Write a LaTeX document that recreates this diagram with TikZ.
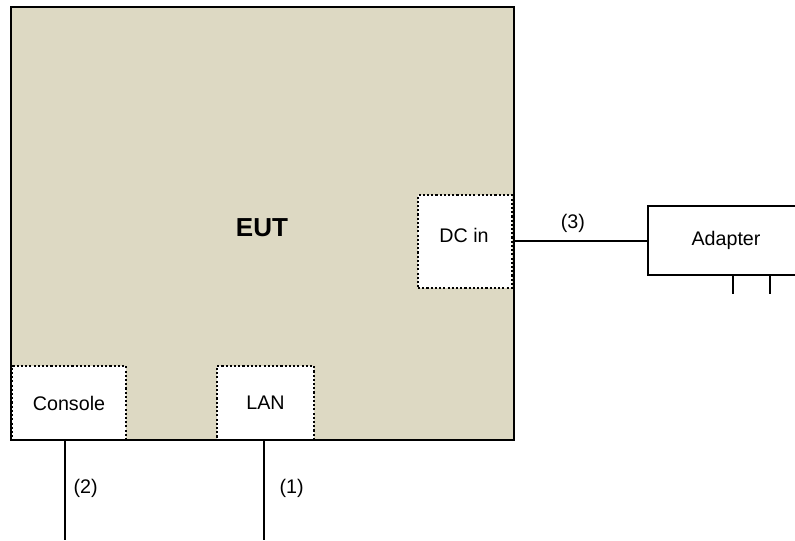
\documentclass[tikz,border=0pt]{standalone}
\usepackage{fontspec}
\setmainfont{Liberation Sans}
\usepackage{xcolor}
\usetikzlibrary{positioning,calc}
\definecolor{eutfill}{RGB}{221,217,195}
\tikzset{
  port/.style={draw,fill=white,line width=1.5pt,dash pattern=on 1.5pt off 1.5pt,inner sep=0pt},
  wire/.style={line width=1.5pt},
}

\begin{document}
\begin{tikzpicture}[x=0.025cm,y=-0.025cm,font=\fontsize{14}{16}\selectfont]
\useasboundingbox (0,0) rectangle (795,540);
\clip (0,0) rectangle (795,540);
% EUT
\node[fill=eutfill,inner sep=0pt,minimum width=12.575cm,minimum height=10.825cm] (eut) at (262.5,223.5) {};
\node (eutlabel) at (262,228) {\fontsize{18.5}{21}\selectfont\bfseries EUT};
% ports
\node[port,minimum width=2.85cm,minimum height=1.85cm] (console) at (69,403) {Console};
\node[port,minimum width=2.425cm,minimum height=1.85cm] (lan) at (265.5,403) {LAN};
\node[port,minimum width=2.35cm,minimum height=2.325cm] (dcin) at (465,241.5) {};
\node (dclabel) at (464,235) {DC in};
\draw[wire] (eut.north west) rectangle (eut.south east);
% adapter, runs past the right edge
\node[draw,wire,inner sep=0pt,minimum width=3.9cm,minimum height=1.725cm] (adapter) at (726,240.5) {Adapter};
\foreach \x in {733,770}
  \draw[wire] (adapter.south -| \x,0) -- ++(0,18);
% cables
\coordinate (c2) at (65,540);
\coordinate (c1) at (264,540);
\draw[wire] (dcin.east |- 0,241) -- (adapter.west |- 0,241) node[midway,above=2pt,xshift=-5pt] (l3) {(3)};
\draw[wire] (c2 |- console.south) -- (c2) node[pos=0.48,right=2pt] (l2) {(2)};
\draw[wire] (c1 |- lan.south) -- (c1) node[pos=0.48,right=7pt] (l1) {(1)};
\end{tikzpicture}
\end{document}
